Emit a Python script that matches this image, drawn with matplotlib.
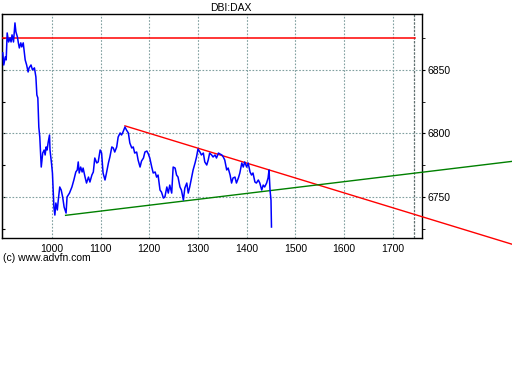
import matplotlib
matplotlib.use("Agg")
import matplotlib.pyplot as plt
from matplotlib.ticker import MultipleLocator

plt.rcParams['font.family'] = ['Liberation Sans', 'DejaVu Sans']

# price series (bar index, DAX level)
bars = [899, 901, 904, 906, 908, 911, 914, 916, 918, 921, 924, 926, 929, 931, 933,
        936, 938, 941, 945, 948, 951, 953, 957, 960, 964, 967, 969, 971, 973, 975,
        978, 981, 984, 986, 988, 990, 992, 995, 996, 999, 1001, 1004, 1006, 1008,
        1011, 1013, 1016, 1019, 1022, 1025, 1029, 1031, 1036, 1041, 1045, 1049,
        1052, 1054, 1056, 1059, 1062, 1064, 1068, 1071, 1075, 1078, 1082, 1085,
        1088, 1092, 1095, 1099, 1102, 1105, 1109, 1112, 1116, 1119, 1123, 1126,
        1129, 1133, 1136, 1140, 1143, 1146, 1150, 1153, 1157, 1160, 1164, 1167,
        1170, 1174, 1177, 1181, 1184, 1188, 1191, 1195, 1198, 1201, 1205, 1208,
        1212, 1215, 1218, 1222, 1225, 1229, 1232, 1236, 1239, 1242, 1246, 1249,
        1253, 1256, 1259, 1263, 1266, 1270, 1273, 1277, 1280, 1283, 1287, 1290,
        1294, 1297, 1300, 1304, 1307, 1311, 1314, 1318, 1321, 1324, 1328, 1331,
        1335, 1338, 1342, 1345, 1349, 1352, 1355, 1359, 1362, 1366, 1369, 1372,
        1376, 1379, 1383, 1386, 1390, 1393, 1396, 1400, 1403, 1407, 1410, 1413,
        1417, 1420, 1424, 1427, 1431, 1434, 1437, 1441, 1444, 1446, 1448, 1450, 1451]
prices = [6863.4, 6853.9, 6860.2, 6857.9, 6879.1, 6872.0, 6875.2, 6872.0, 6877.6,
          6872.0, 6887.0, 6879.9, 6876.0, 6871.3, 6867.3, 6871.3, 6868.1, 6871.3,
          6857.9, 6853.9, 6848.4, 6851.6, 6853.9, 6850.0, 6851.6, 6844.5, 6830.3,
          6828.0, 6805.1, 6797.2, 6773.6, 6784.6, 6787.0, 6783.1, 6789.4, 6787.0,
          6792.5, 6798.8, 6787.0, 6776.8, 6768.9, 6742.1, 6735.8, 6745.3, 6739.8,
          6747.6, 6757.9, 6755.5, 6750.0, 6742.1, 6737.4, 6750.0, 6753.1, 6757.9,
          6763.4, 6769.7, 6771.3, 6777.6, 6768.9, 6773.6, 6769.7, 6772.8, 6765.7,
          6761.0, 6765.7, 6761.8, 6767.3, 6769.7, 6780.7, 6776.8, 6777.6, 6787.0,
          6784.6, 6768.9, 6763.4, 6768.9, 6776.8, 6781.5, 6789.4, 6788.6, 6785.4,
          6789.4, 6797.2, 6800.4, 6798.8, 6801.2, 6805.1, 6802.8, 6800.4, 6792.5,
          6788.6, 6789.4, 6784.6, 6785.4, 6779.1, 6773.6, 6778.3, 6780.7, 6785.4,
          6786.2, 6783.9, 6780.7, 6773.6, 6768.9, 6769.7, 6765.7, 6767.3, 6755.5,
          6753.9, 6749.2, 6750.0, 6757.9, 6753.1, 6759.4, 6753.1, 6773.6, 6772.8,
          6767.3, 6765.7, 6757.9, 6755.5, 6747.6, 6757.1, 6761.0, 6753.1, 6757.9,
          6765.7, 6771.3, 6776.8, 6781.5, 6787.8, 6785.4, 6783.1, 6784.6, 6777.6,
          6775.2, 6779.1, 6784.6, 6783.1, 6781.5, 6783.1, 6780.7, 6784.6, 6783.9,
          6783.1, 6781.5, 6779.1, 6771.3, 6772.8, 6767.3, 6761.0, 6765.0, 6765.7,
          6761.0, 6765.0, 6768.9, 6776.8, 6773.6, 6777.6, 6773.6, 6776.8, 6769.7,
          6767.3, 6768.9, 6761.8, 6761.0, 6763.4, 6761.0, 6755.5, 6759.4, 6757.9,
          6761.0, 6765.0, 6771.3, 6755.5, 6747.6, 6726.4]

# drawn lines: horizontal resistance, falling and rising trend lines
resist_x = [898, 1745]
resist_y = [6875, 6875]
down_x = [1150, 1944]
down_y = [6806, 6713]
up_x = [1028, 1944]
up_y = [6735.6, 6778]

xticks = [1000, 1100, 1200, 1300, 1400, 1500, 1600, 1700]
yticks = [6750, 6800, 6850]

fig = plt.figure(figsize=(5.12, 3.84), dpi=100)
ax = fig.add_axes([0.0045, 0.380, 0.8195, 0.5835])

ax.set_xlim(898, 1760)
ax.set_ylim(6717.7, 6894)

grid_kw = dict(color='#80a0a0', linestyle=(0, (1.5, 1.5)), linewidth=0.8, zorder=1)
for x in xticks:
    ax.axvline(x, **grid_kw)
ax.axvline(1744, color='#607070', linestyle=(0, (2, 1)), linewidth=0.9, zorder=1)
for y in yticks:
    ax.axhline(y, **grid_kw)

ax.plot(resist_x, resist_y, color='#ff0000', linewidth=1.1, zorder=3)
ax.plot(down_x, down_y, color='#ff0000', linewidth=1.0, zorder=3, clip_on=False)
ax.plot(up_x, up_y, color='#008000', linewidth=1.0, zorder=3, clip_on=False)
ax.plot(bars, prices, color='#0000ff', linewidth=1.1, zorder=4)

ax.set_xticks(xticks)
ax.set_yticks(yticks)
ax.yaxis.set_minor_locator(MultipleLocator(25))
ax.yaxis.tick_right()
ax.tick_params(axis='y', which='both', direction='out', length=2.5, pad=1.5,
               labelsize=7.5, right=True, left=False)
ax.tick_params(axis='x', length=0, pad=4, labelsize=7.5)
for s in ax.spines.values():
    s.set_linewidth(1.0)

# small inward ticks on the left edge
left = ax.secondary_yaxis('left')
left.set_yticks([6725, 6750, 6775, 6800, 6825, 6850, 6875])
left.tick_params(direction='in', length=2.5, labelleft=False)

fig.text(0.451, 0.979, 'DBI:DAX', ha='center', va='center', fontsize=7.5)
fig.text(0.006, 0.328, '(c) www.advfn.com', ha='left', va='center', fontsize=7.5)

fig.savefig('out.png', dpi=100)
